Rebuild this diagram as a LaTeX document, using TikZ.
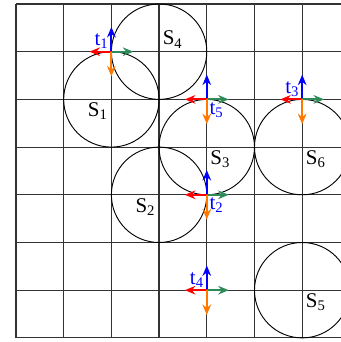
\documentclass[tikz,border=0pt]{standalone}
\usepackage{fontspec}
\setmainfont{Liberation Serif}
\usetikzlibrary{arrows.meta}
\definecolor{axgreen}{RGB}{46,139,87}
\definecolor{axorange}{RGB}{255,120,0}

\begin{document}
\begin{tikzpicture}[x=1cm,y=1cm,
  gridline/.style={draw=black!80,line width=0.7pt},
  disc/.style={draw=black,line width=0.55pt},
  ax/.style={-{Stealth[length=2.2mm,width=1.8mm]},line width=1.1pt},
  slab/.style={font=\fontsize{12.5}{14}\selectfont,inner sep=2pt},
  tlab/.style={font=\fontsize{12.5}{14}\selectfont,text=blue,inner sep=1.5pt}]
\useasboundingbox (-0.335,-0.086) rectangle (6.813,7.084);
% grid and circles
\begin{scope}
\clip (-0.335,-0.086) rectangle (6.813,7.084);
\draw[gridline] (0,0) grid (7,7);
\foreach \n/\p in {1/{2,5},2/{3,3},3/{4,4},4/{3,6},5/{6,1},6/{6,4}}{
  \coordinate (c\n) at (\p);
  \draw[disc] (c\n) circle (1);}
\end{scope}
\node[slab,below left] (s1) at (c1) {S\textsubscript{1}};
\node[slab,below left] (s2) at (c2) {S\textsubscript{2}};
\node[slab,below right] (s3) at (c3) {S\textsubscript{3}};
\node[slab,above right] (s4) at (c4) {S\textsubscript{4}};
\node[slab,below right] (s5) at (c5) {S\textsubscript{5}};
\node[slab,below right] (s6) at (c6) {S\textsubscript{6}};
% tangent frames
\foreach \k/\p in {1/{2,6},2/{4,3},3/{6,5},4/{4,1},5/{4,5}}{
  \coordinate (f\k) at (\p);
  \path (f\k) ++(0,0.52) coordinate (f\k u) (f\k) ++(0,-0.52) coordinate (f\k d)
        (f\k) ++(-0.46,0) coordinate (f\k l) (f\k) ++(0.46,0) coordinate (f\k r);
  \draw[ax,blue] (f\k) -- (f\k u);
  \draw[ax,axgreen] (f\k) -- (f\k r);
  \draw[ax,red] (f\k) -- (f\k l);
  \draw[ax,axorange] (f\k) -- (f\k d);}
\node[tlab,above left] (t1) at (f1) {t\textsubscript{1}};
\node[tlab,below right] (t2) at (f2) {t\textsubscript{2}};
\node[tlab,above left] (t3) at (f3) {t\textsubscript{3}};
\node[tlab,above left] (t4) at (f4) {t\textsubscript{4}};
\node[tlab,below right] (t5) at (f5) {t\textsubscript{5}};
\end{tikzpicture}
\end{document}
